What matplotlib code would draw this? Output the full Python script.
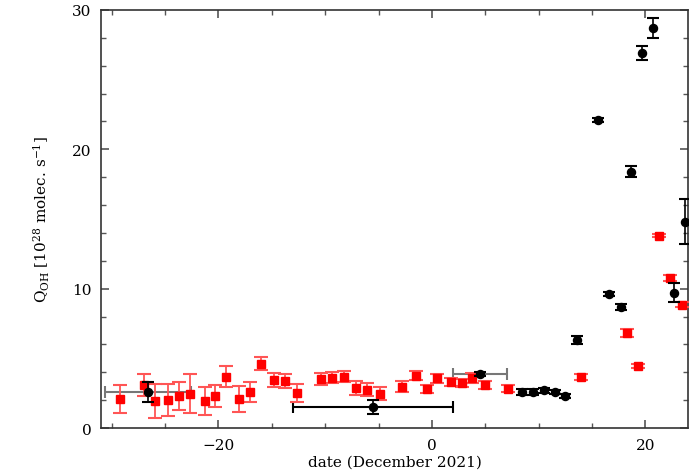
import matplotlib
matplotlib.use("Agg")
import matplotlib.pyplot as plt
from matplotlib.ticker import MultipleLocator

# red series: date, Q_OH, 1-sigma
red_x = [-29.2, -27.0, -25.9, -24.7, -23.7, -22.7, -21.3, -20.3, -19.3, -18.1,
         -17.0, -16.0, -14.8, -13.8, -12.6, -10.4, -9.4, -8.2, -7.1, -6.1,
         -4.9, -2.8, -1.5, -0.5, 0.5, 1.75, 2.8, 3.8, 5.0, 7.1,
         14.0, 18.3, 19.3, 21.3, 22.35, 23.4]
red_y = [2.08, 3.11, 1.94, 2.0, 2.32, 2.46, 1.94, 2.32, 3.68, 2.08,
         2.6, 4.62, 3.47, 3.4, 2.53, 3.52, 3.6, 3.68, 2.9, 2.75,
         2.46, 2.97, 3.75, 2.82, 3.57, 3.32, 3.25, 3.57, 3.09, 2.82,
         3.66, 6.84, 4.47, 13.8, 10.75, 8.85]
red_err = [1.0, 0.8, 1.2, 1.15, 1.0, 1.4, 1.0, 0.8, 0.75, 0.95,
           0.7, 0.45, 0.5, 0.5, 0.65, 0.4, 0.4, 0.4, 0.5, 0.45,
           0.45, 0.37, 0.33, 0.3, 0.33, 0.3, 0.3, 0.35, 0.3, 0.25,
           0.25, 0.3, 0.15, 0.1, 0.2, 0.2]

# black series
blk_x = [-26.6, -5.5, 4.5, 8.45, 9.46, 10.5, 11.5, 12.5, 13.6, 15.6,
         16.6, 17.7, 18.7, 19.7, 20.7, 22.7, 23.7]
blk_y = [2.6, 1.48, 3.9, 2.6, 2.6, 2.7, 2.6, 2.32, 6.32, 22.1,
         9.6, 8.69, 18.4, 26.9, 28.7, 9.71, 14.8]
blk_err = [0.7, 0.5, 0.15, 0.2, 0.2, 0.2, 0.15, 0.15, 0.3, 0.15,
           0.15, 0.2, 0.4, 0.5, 0.7, 0.7, 1.6]

# black points averaged over a date range (half-width in days)
span_x = [-26.6, -5.5, 4.5]
span_y = [2.6, 1.48, 3.9]
span_half = [4.0, 7.5, 2.5]

plt.rcParams["font.family"] = "DejaVu Serif"
plt.rcParams["mathtext.fontset"] = "dejavuserif"

fig = plt.figure(figsize=(6.89, 4.77), dpi=100)
ax = fig.add_axes([0.1466, 0.1006, 0.852, 0.8764])

# date-range bars first so the markers sit on top
for x, y, h, c in zip(span_x, span_y, span_half, ["#777777", "black", "#777777"]):
    ax.errorbar([x], [y], xerr=[h], fmt="none", ecolor=c, elinewidth=1.5,
                capsize=4, capthick=1.5, zorder=2)

ax.errorbar(red_x, red_y, yerr=red_err, fmt="s", color="red", ms=5.5,
            ecolor="#ff5555", elinewidth=1.3, capsize=5, capthick=1.5, zorder=3)
ax.errorbar(blk_x, blk_y, yerr=blk_err, fmt="o", color="black", ms=5.8,
            ecolor="black", elinewidth=1.2, capsize=4.5, capthick=1.5, zorder=4)

ax.set_xlim(-31, 24)
ax.set_ylim(0, 30)
ax.xaxis.set_major_locator(MultipleLocator(20))
ax.xaxis.set_minor_locator(MultipleLocator(5))
ax.yaxis.set_major_locator(MultipleLocator(10))
ax.yaxis.set_minor_locator(MultipleLocator(2))
ax.tick_params(which="both", direction="in", top=True, right=True,
               color="#555555", labelsize=11, pad=7)
ax.tick_params(which="major", length=6, width=1.2)
ax.tick_params(which="minor", length=3.5, width=1.0)
for s in ax.spines.values():
    s.set_color("#333333")
    s.set_linewidth(1.2)

ax.set_xlabel("date (December 2021)", fontsize=11, labelpad=2)
ax.set_ylabel(r"Q$_{\rm OH}$ [10$^{28}$ molec. s$^{-1}$]", fontsize=11, labelpad=14)

fig.savefig("out.png", dpi=100)
